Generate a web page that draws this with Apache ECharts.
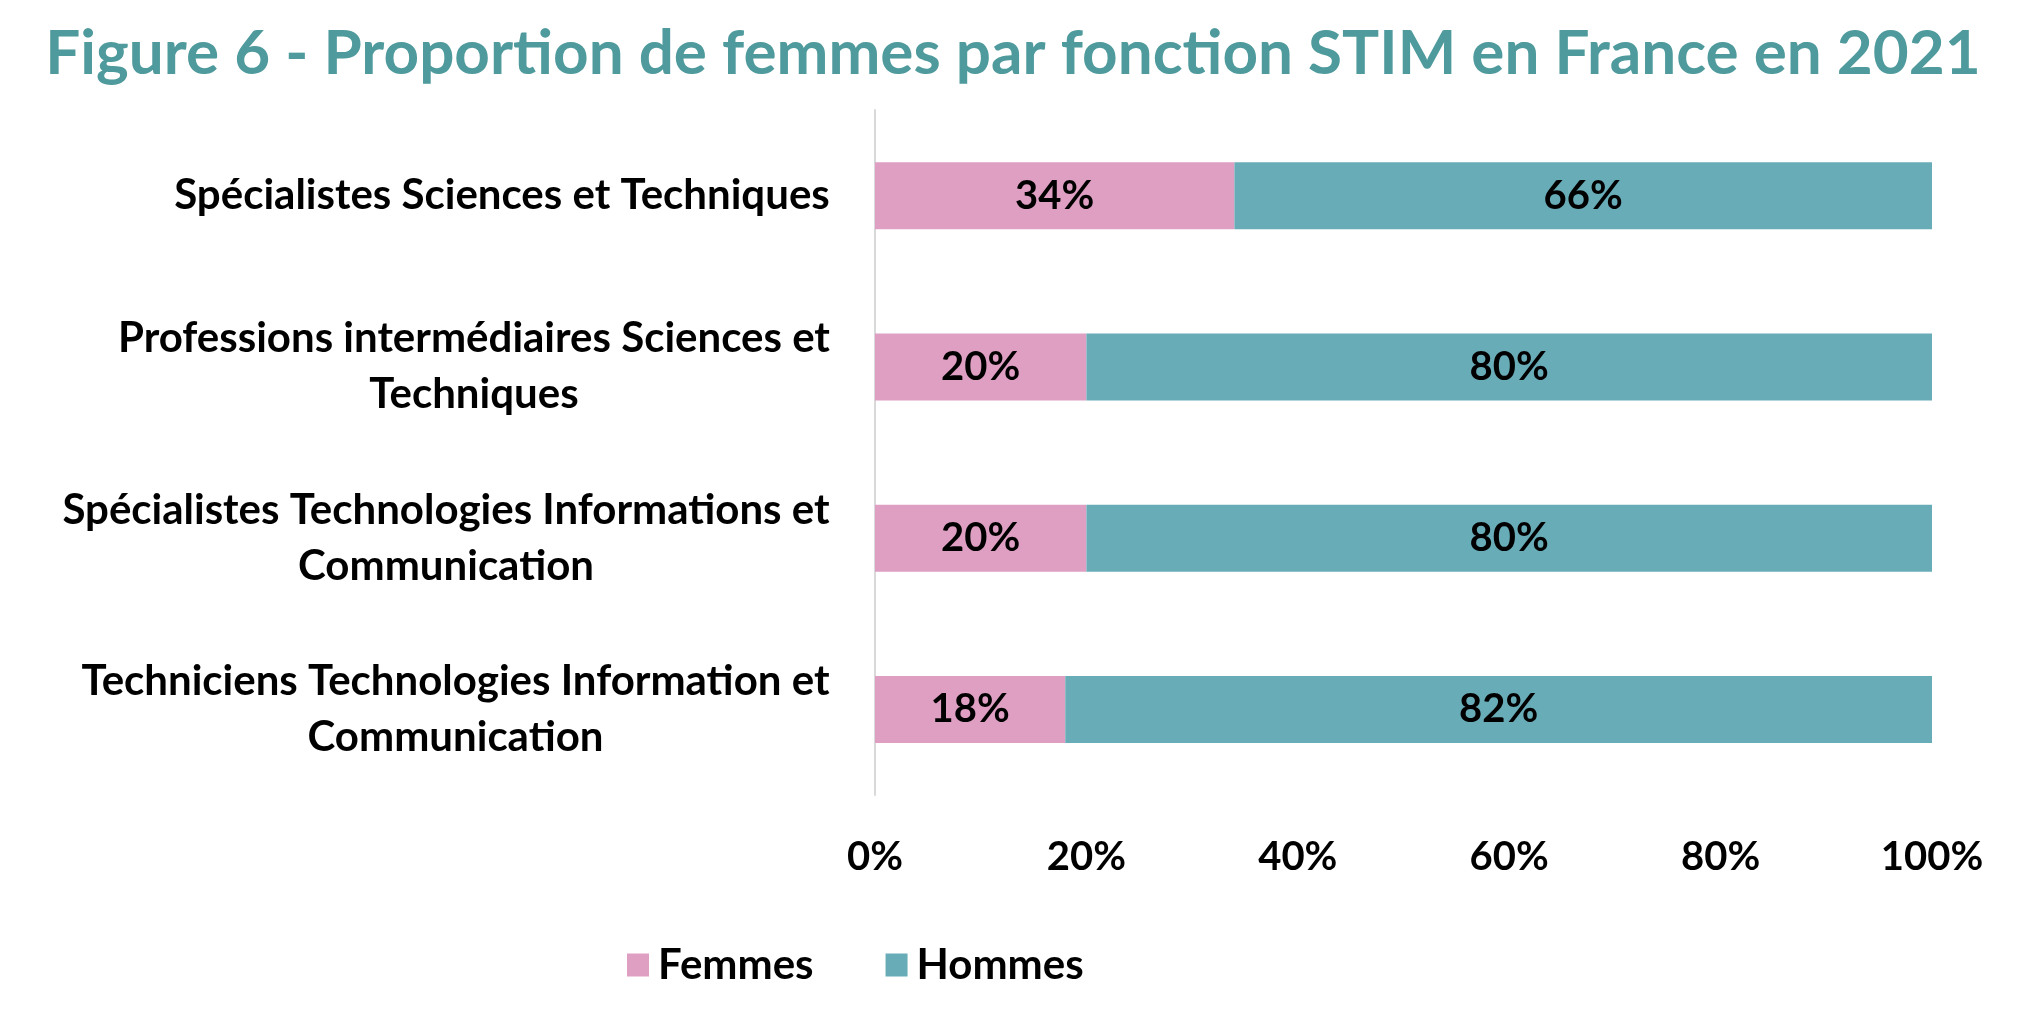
<!DOCTYPE html>
<html><head><meta charset="utf-8">
<script src="https://cdn.jsdelivr.net/npm/echarts@6/dist/echarts.min.js"></script>
<style>html,body{margin:0;padding:0;background:#fff}#c{width:2026px;height:1012px}</style>
</head><body><div id="c"></div>
<script>
const titleText = 'Figure 6 - Proportion de femmes par fonction STIM en France en 2021';
const categories = [
  'Spécialistes Sciences et Techniques',
  'Professions intermédiaires Sciences et\nTechniques',
  'Spécialistes Technologies Informations et\nCommunication',
  'Techniciens Technologies Information et\nCommunication'
];
const femmes = [34, 20, 20, 18];
const hommes = [66, 80, 80, 82];
const xTicks = [0, 20, 40, 60, 80, 100];

const FONT = 'Lato';
const CAT_SIZE = 42;
const cv = document.createElement('canvas').getContext('2d');
cv.font = 'bold ' + CAT_SIZE + 'px ' + FONT;
const rich = {};
categories.forEach((c, i) => {
  const w = Math.max(...c.split('\n').map(l => cv.measureText(l).width));
  rich['c' + i] = {width: Math.ceil(w) + 2, align: 'center', fontFamily: FONT, fontWeight: 'bold', fontSize: CAT_SIZE, color: '#000', lineHeight: 56};
});

const chart = echarts.init(document.getElementById('c'));
const labelStyle = {show: true, position: 'inside', formatter: '{c}%', color: '#000', fontFamily: FONT, fontWeight: 'bold', fontSize: 40};
chart.setOption({
  animation: false,
  backgroundColor: '#fff',
  title: {
    text: titleText, left: 'center', top: 18,
    textStyle: {fontFamily: FONT, fontWeight: 'bold', fontSize: 62, color: '#4F9A9C'}
  },
  legend: {
    left: 622, top: 939, itemWidth: 22, itemHeight: 23, itemGap: 72, icon: 'rect',
    textStyle: {fontFamily: FONT, fontWeight: 'bold', fontSize: 42, color: '#000', padding: [0, 0, 0, 4]}
  },
  grid: {left: 875, right: 94, top: 110, bottom: 217, containLabel: false},
  xAxis: {
    type: 'value', min: 0, max: 100, interval: 20,
    axisLine: {show: false}, axisTick: {show: false}, splitLine: {show: false},
    axisLabel: {formatter: v => xTicks.includes(v) ? v + '%' : '', margin: 42, fontFamily: FONT, fontWeight: 'bold', fontSize: 40, color: '#000'}
  },
  yAxis: {
    type: 'category', inverse: true, data: categories,
    axisLine: {show: true, lineStyle: {color: '#D9D9D9', width: 2}},
    axisTick: {show: false},
    axisLabel: {
      margin: 44,
      formatter: (v, i) => '{c' + i + '|' + v + '}',
      rich: rich
    }
  },
  series: [
    {name: 'Femmes', type: 'bar', stack: 's', data: femmes, barWidth: 67, itemStyle: {color: '#DE9FC3'}, label: labelStyle},
    {name: 'Hommes', type: 'bar', stack: 's', data: hommes, barWidth: 67, itemStyle: {color: '#68ACB8'}, label: labelStyle}
  ]
});
</script></body></html>
